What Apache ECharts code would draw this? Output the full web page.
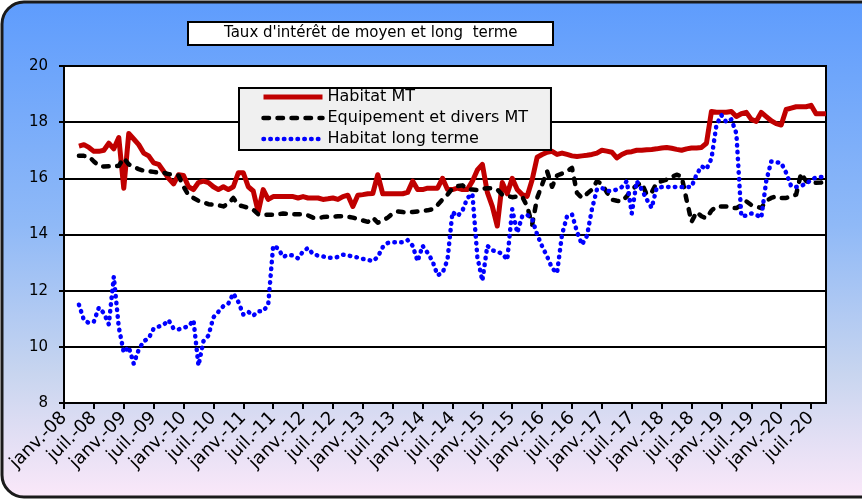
<!DOCTYPE html>
<html>
<head>
<meta charset="utf-8">
<script src="https://cdn.jsdelivr.net/npm/echarts@6/dist/echarts.min.js"></script>
<style>
  html, body { margin:0; padding:0; background:#fff; }
  #chart     { width:862px; height:499px; }
</style>
</head>
<body>
<div id="chart"></div>
<script>
// mois (janv.-08 .. oct.-20)
const monthNames = ['janv.','févr.','mars','avr.','mai','juin','juil.','août','sept.','oct.','nov.','déc.']
const months = []
for (let y = 2008; y <= 2020; y++) {
  for (let m = 0; m < 12; m++) {
    if (y === 2020 && m > 9) break
    months.push(monthNames[m] + '-' + String(y).slice(2))
  }
}

// Habitat MT (à partir d'avr.-08)
const habitatMT = [null, null, null,
  17.15,17.2,17.1,16.96,16.96,17.0,17.25,17.05,17.45,15.65,
  17.6,17.4,17.2,16.9,16.8,16.55,16.5,16.25,16.0,15.8,
  16.13,16.1,15.7,15.6,15.85,15.9,15.85,15.7,15.6,15.7,
  15.6,15.7,16.2,16.2,15.7,15.55,14.8,15.6,15.25,15.35,
  15.35,15.35,15.35,15.35,15.3,15.35,15.3,15.3,15.3,15.25,
  15.27,15.3,15.25,15.35,15.4,15.0,15.4,15.42,15.45,15.46,
  16.13,15.45,15.45,15.45,15.45,15.45,15.5,15.9,15.6,15.6,
  15.65,15.65,15.65,16.0,15.6,15.6,15.65,15.6,15.6,15.9,
  16.3,16.5,15.5,15.0,14.3,15.85,15.45,16.0,15.6,15.42,
  15.36,15.95,16.75,16.85,16.93,16.96,16.85,16.9,16.85,16.8,
  16.78,16.8,16.82,16.85,16.9,17.0,16.97,16.93,16.73,16.85,
  16.93,16.95,17.0,17.0,17.02,17.03,17.05,17.08,17.1,17.07,
  17.03,17.0,17.05,17.08,17.08,17.1,17.25,18.38,18.35,18.35,
  18.35,18.38,18.2,18.3,18.35,18.1,18.03,18.35,18.2,18.05,
  17.95,17.9,18.45,18.5,18.55,18.55,18.55,18.6,18.3,18.3,18.3]

// Equipement et divers MT
const equipementMT = [null, null, null,
  16.8,16.8,16.78,16.6,16.45,16.42,16.43,16.42,16.45,16.72,
  16.5,16.4,16.33,16.27,16.25,16.23,16.2,16.2,16.15,16.13,
  16.1,15.7,15.4,15.3,15.2,15.15,15.08,15.06,15.04,15.0,
  15.1,15.3,15.05,15.0,14.95,14.88,14.72,14.7,14.7,14.7,
  14.72,14.75,14.73,14.72,14.72,14.72,14.68,14.6,14.58,14.62,
  14.63,14.63,14.65,14.65,14.63,14.6,14.55,14.5,14.45,14.6,
  14.42,14.5,14.6,14.75,14.82,14.8,14.78,14.8,14.82,14.84,
  14.86,14.9,15.05,15.25,15.42,15.65,15.72,15.75,15.62,15.6,
  15.58,15.63,15.65,15.65,15.6,15.42,15.38,15.33,15.35,15.35,
  15.0,14.35,15.3,15.78,16.25,15.7,16.1,16.17,16.25,16.37,
  15.48,15.3,15.45,15.6,15.9,15.8,15.5,15.24,15.2,15.18,
  15.36,15.6,15.75,15.84,15.42,15.5,15.84,15.9,15.95,16.05,
  16.13,16.07,15.24,14.45,14.8,14.65,14.58,14.85,15.0,15.0,
  15.0,14.95,14.94,15.05,15.18,15.05,15.0,14.94,15.2,15.3,
  15.36,15.3,15.3,15.36,15.42,16.18,15.9,15.84,15.84,15.85,15.9]

// Habitat long terme
const habitatLT = [null, null, null,
  11.5,10.95,10.85,10.9,11.4,11.2,10.8,12.5,10.7,9.8,
  10.0,9.4,9.9,10.2,10.3,10.65,10.72,10.78,10.95,10.65,
  10.62,10.68,10.73,10.95,9.33,10.2,10.4,11.05,11.25,11.45,
  11.54,11.9,11.6,11.15,11.25,11.11,11.27,11.27,11.5,13.6,
  13.5,13.2,13.28,13.25,13.15,13.4,13.52,13.3,13.25,13.22,
  13.17,13.17,13.2,13.28,13.25,13.22,13.18,13.13,13.1,13.05,
  13.2,13.55,13.7,13.72,13.72,13.72,13.8,13.6,13.05,13.6,
  13.35,13.05,12.55,12.63,13.1,14.8,14.65,14.85,15.3,15.45,
  13.2,12.35,13.6,13.44,13.38,13.32,13.1,14.9,14.06,14.65,
  14.7,14.55,14.0,13.58,13.22,12.8,12.63,14.0,14.65,14.72,
  14.1,13.64,13.95,14.9,15.6,15.66,15.55,15.55,15.6,15.69,
  15.9,14.75,15.9,15.6,15.25,14.95,15.66,15.69,15.69,15.7,
  15.69,15.69,15.69,15.7,16.13,16.43,16.33,16.7,17.9,18.25,
  18.0,18.1,17.6,14.65,14.67,14.75,14.7,14.6,15.9,16.6,
  16.57,16.55,16.2,15.72,15.69,15.74,15.8,15.95,16.03,16.05,16.05]

const seriesNames = ['Habitat MT', 'Equipement et divers MT', 'Habitat long terme']
const yTicks = [8, 10, 12, 14, 16, 18, 20]

const wide = 'DejaVu Sans, sans-serif'

// styles des trois courbes (reprises dans la légende)
const styles = [
  { color: '#c00000', width: 5,   type: 'solid',     cap: 'butt',  join: 'round' },
  { color: '#000',    width: 4.5, type: [5.5, 8.5],  cap: 'round', join: 'round' },
  { color: '#0000ff', width: 4.5, type: [0.5, 6.3],  cap: 'round', join: 'round' }
]
const datasets = [habitatMT, equipementMT, habitatLT]

const chart = echarts.init(document.getElementById('chart'))

chart.setOption({
  animation: false,
  graphic: [{
    type: 'rect', z: -10,
    shape: { x: 2, y: 2, width: 900, height: 495, r: 22 },
    style: {
      fill: new echarts.graphic.LinearGradient(0, 0, 0, 1, [
        { offset: 0,    color: '#5e9cfd' },
        { offset: 0.45, color: '#8fb9f7' },
        { offset: 0.75, color: '#c8d5ef' },
        { offset: 1,    color: '#fbe8f9' }
      ]),
      stroke: '#1a1a1a', lineWidth: 3
    }
  }],
  title: {
    text: "Taux d'intérêt de moyen et long  terme",
    left: 188, top: 22,
    backgroundColor: '#fff', borderColor: '#000', borderWidth: 2,
    padding: [4, 36, 4, 36],
    textStyle: { fontFamily: wide, fontSize: 15, fontWeight: 'normal', color: '#000' }
  },
  legend: {
    data: seriesNames.map((n, k) => ({ name: n, lineStyle: { width: styles[k].width } })),
    orient: 'vertical',
    left: 239, top: 88,
    backgroundColor: '#f0f0f0', borderColor: '#000', borderWidth: 2, borderRadius: 0,
    padding: [1, 23, 3, 22],
    itemWidth: 59, itemHeight: 14, itemGap: 5,
    itemStyle: { opacity: 0 },
    textStyle: { fontFamily: wide, fontSize: 16, color: '#000', lineHeight: 16 }
  },
  grid: {
    left: 64, top: 66, right: 36, bottom: 96,
    show: true, backgroundColor: '#fff', borderColor: '#000', borderWidth: 2
  },
  xAxis: {
    type: 'category',
    data: months,
    boundaryGap: false,
    axisLine: { lineStyle: { color: '#000', width: 2 } },
    axisTick: { interval: 5, length: 6, lineStyle: { color: '#000', width: 2 } },
    axisLabel: {
      interval: 5, rotate: 45, margin: 12,
      fontFamily: wide, fontSize: 18, color: '#000'
    },
    splitLine: { show: false }
  },
  yAxis: {
    type: 'value',
    min: yTicks[0], max: yTicks[yTicks.length - 1], interval: 2,
    axisLine: { show: true, lineStyle: { color: '#000', width: 2 } },
    axisTick: { show: true, length: 5, lineStyle: { color: '#000', width: 2 } },
    axisLabel: { margin: 16, fontFamily: wide, fontSize: 15, color: '#000' },
    splitLine: { lineStyle: { color: '#000', width: 2 } }
  },
  series: seriesNames.map((n, k) => ({
    name: n, type: 'line', data: datasets[k],
    symbol: 'none',
    lineStyle: styles[k],
    itemStyle: { color: styles[k].color }
  }))
})
</script>
</body>
</html>
